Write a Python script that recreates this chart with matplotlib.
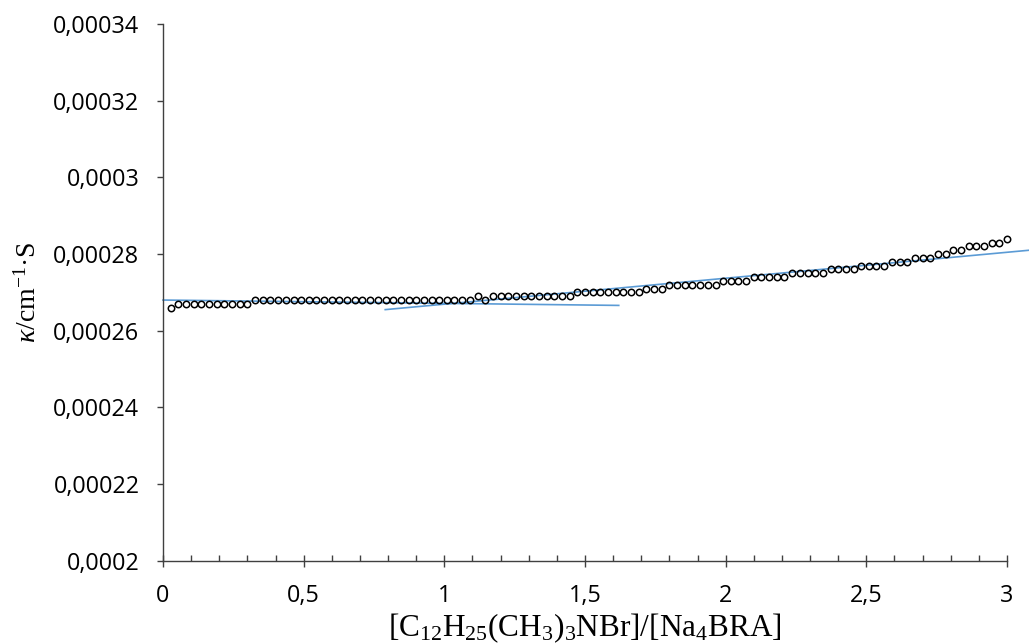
import matplotlib
matplotlib.use("Agg")
import matplotlib.pyplot as plt
from matplotlib.ticker import FixedLocator, MultipleLocator

plt.rcParams["mathtext.fontset"] = "custom"
plt.rcParams["mathtext.rm"] = "Liberation Serif"
plt.rcParams["mathtext.it"] = "Liberation Serif:italic"

# surfactant / Na4BRA molar ratio
ratio = [
    0.027, 0.055, 0.082, 0.109, 0.136, 0.164, 0.191, 0.218, 0.245, 0.273,
    0.300, 0.327, 0.355, 0.382, 0.409, 0.436, 0.464, 0.491, 0.518, 0.545,
    0.573, 0.600, 0.627, 0.655, 0.682, 0.709, 0.736, 0.764, 0.791, 0.818,
    0.845, 0.873, 0.900, 0.927, 0.955, 0.982, 1.009, 1.036, 1.064, 1.091,
    1.118, 1.145, 1.173, 1.200, 1.227, 1.255, 1.282, 1.309, 1.336, 1.364,
    1.391, 1.418, 1.445, 1.473, 1.500, 1.527, 1.555, 1.582, 1.609, 1.636,
    1.664, 1.691, 1.718, 1.745, 1.773, 1.800, 1.827, 1.855, 1.882, 1.909,
    1.936, 1.964, 1.991, 2.018, 2.045, 2.073, 2.100, 2.127, 2.155, 2.182,
    2.209, 2.236, 2.264, 2.291, 2.318, 2.345, 2.373, 2.400, 2.427, 2.455,
    2.482, 2.509, 2.536, 2.564, 2.591, 2.618, 2.645, 2.673, 2.700, 2.727,
    2.755, 2.782, 2.809, 2.836, 2.864, 2.891, 2.918, 2.945, 2.973, 3.000,
]

# specific conductivity, S/cm
kappa = [
    0.000266, 0.000267, 0.000267, 0.000267, 0.000267, 0.000267, 0.000267, 0.000267, 0.000267, 0.000267,
    0.000267, 0.000268, 0.000268, 0.000268, 0.000268, 0.000268, 0.000268, 0.000268, 0.000268, 0.000268,
    0.000268, 0.000268, 0.000268, 0.000268, 0.000268, 0.000268, 0.000268, 0.000268, 0.000268, 0.000268,
    0.000268, 0.000268, 0.000268, 0.000268, 0.000268, 0.000268, 0.000268, 0.000268, 0.000268, 0.000268,
    0.000269, 0.000268, 0.000269, 0.000269, 0.000269, 0.000269, 0.000269, 0.000269, 0.000269, 0.000269,
    0.000269, 0.000269, 0.000269, 0.000270, 0.000270, 0.000270, 0.000270, 0.000270, 0.000270, 0.000270,
    0.000270, 0.000270, 0.000271, 0.000271, 0.000271, 0.000272, 0.000272, 0.000272, 0.000272, 0.000272,
    0.000272, 0.000272, 0.000273, 0.000273, 0.000273, 0.000273, 0.000274, 0.000274, 0.000274, 0.000274,
    0.000274, 0.000275, 0.000275, 0.000275, 0.000275, 0.000275, 0.000276, 0.000276, 0.000276, 0.000276,
    0.000277, 0.000277, 0.000277, 0.000277, 0.000278, 0.000278, 0.000278, 0.000279, 0.000279, 0.000279,
    0.000280, 0.000280, 0.000281, 0.000281, 0.000282, 0.000282, 0.000282, 0.000283, 0.000283, 0.000284,
]

# linear trend lines for the two regions (end points)
trend1_x = [0.0, 1.62]
trend1_y = [0.0002680, 0.0002666]
trend2_x = [0.79, 3.08]
trend2_y = [0.0002655, 0.0002810]

y_ticks = [0.0002, 0.00022, 0.00024, 0.00026, 0.00028, 0.0003, 0.00032, 0.00034]
y_tick_labels = ["0,0002", "0,00022", "0,00024", "0,00026", "0,00028", "0,0003", "0,00032", "0,00034"]
x_ticks = [0, 0.5, 1, 1.5, 2, 2.5, 3]
x_tick_labels = ["0", "0,5", "1", "1,5", "2", "2,5", "3"]

fig = plt.figure(figsize=(10.29, 6.44), dpi=100)
ax = fig.add_axes([0.1584, 0.1293, 0.8202, 0.8334])

line_col = "#5B9BD5"
ax.plot(trend1_x, trend1_y, color=line_col, lw=1.2, clip_on=False, zorder=2)
ax.plot(trend2_x, trend2_y, color=line_col, lw=1.2, clip_on=False, zorder=2)
ax.plot(ratio, kappa, ls="none", marker="o", ms=4.6, mfc="none", mec="black",
        mew=1.1, zorder=3, clip_on=False)

ax.set_xlim(0, 3)
ax.set_ylim(0.0002, 0.00034)

axis_col = "#404040"
for side in ("top", "right"):
    ax.spines[side].set_visible(False)
for side in ("left", "bottom"):
    ax.spines[side].set_color(axis_col)
    ax.spines[side].set_linewidth(1.0)

ax.yaxis.set_major_locator(FixedLocator(y_ticks))
ax.set_yticklabels(y_tick_labels)
ax.xaxis.set_major_locator(FixedLocator(x_ticks))
ax.set_xticklabels(x_tick_labels)
ax.xaxis.set_minor_locator(MultipleLocator(0.1))

for lab in ax.get_xticklabels() + ax.get_yticklabels():
    lab.set_fontfamily("Open Sans")
    lab.set_fontsize(16.8)
    lab.set_color("black")

ax.tick_params(axis="y", which="major", direction="out", length=4, width=1,
               color=axis_col, pad=13)
ax.tick_params(axis="x", which="major", direction="inout", length=9, width=1,
               color=axis_col, pad=12.5)
ax.tick_params(axis="x", which="minor", direction="in", length=4, width=1,
               color=axis_col)

ax.set_xlabel(r"[C$_{12}$H$_{25}$(CH$_3$)$_3$NBr]/[Na$_4$BRA]",
              family="Liberation Serif", size=22.5, labelpad=2)
ax.set_ylabel(r"$\kappa$/cm$^{-1}$·S", family="Liberation Serif", size=20,
              labelpad=8)

fig.savefig("out.png", dpi=100)
